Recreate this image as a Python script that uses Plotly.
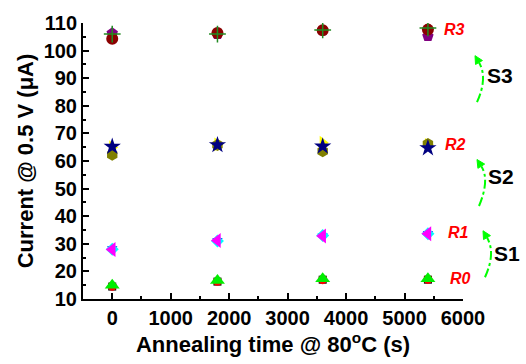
import math
import plotly.graph_objects as go

# ---- data ----
time_s = [0, 1800, 3600, 5400]

r0_black_square = [14.5, 16.3, 17.0, 17.0]
r0_red_circle = [14.6, 16.4, 17.0, 17.1]
r0_green_triangle = [15.0, 16.7, 17.3, 17.3]

r1_blue_tridown = [28.3, 31.3, 32.9, 33.8]
r1_cyan_diamond = [28.0, 31.0, 33.0, 33.6]
r1_magenta_tleft = [27.9, 31.2, 32.8, 33.6]

r2_yellow_tright = [65.0, 66.0, 66.6, 65.8]
r2_olive_hexagon = [62.3, 65.8, 63.5, 66.2]
r2_navy_star = [65.2, 65.8, 65.3, 64.7]

r3_purple_pentagon = [106.3, 106.0, 107.3, 105.2]
r3_wine_circle = [104.3, 106.4, 107.4, 107.6]
r3_green_cross = [106.0, 106.0, 107.5, 108.2]

x_ticks = [0, 1000, 2000, 3000, 4000, 5000, 6000]
y_ticks = [10, 20, 30, 40, 50, 60, 70, 80, 90, 100, 110]

row_labels = ["R0", "R1", "R2", "R3"]
row_label_x = [5950, 5930, 5880, 5850]
row_label_y = [17.5, 34.1, 66.0, 107.6]
step_labels = ["S1", "S2", "S3"]

series = [
    (r0_black_square, "square", "#000000", 8),
    (r0_red_circle, "circle", "#ff0000", 9),
    (r0_green_triangle, "triangle-up", "#00ee00", 13),
    (r1_blue_tridown, "triangle-down", "#0000ff", 9),
    (r1_cyan_diamond, "diamond", "#00ffff", 10),
    (r1_magenta_tleft, "triangle-left", "#ff00ff", 13),
    (r2_yellow_tright, "triangle-right", "#ffff00", 12),
    (r2_olive_hexagon, "hexagon", "#808000", 12),
    (r2_navy_star, "star", "#000080", 13),
    (r3_purple_pentagon, "pentagon", "#800080", 12),
    (r3_wine_circle, "circle", "#8b0000", 12),
]

FAM = "Liberation Sans"

fig = go.Figure()
for vals, sym, col, sz in series:
    fig.add_trace(go.Scatter(
        x=time_s, y=vals, mode="markers",
        marker=dict(symbol=sym, color=col, size=sz, line=dict(width=0)),
        showlegend=False))
fig.add_trace(go.Scatter(
    x=time_s, y=r3_green_cross, mode="markers",
    marker=dict(symbol="cross-thin", size=12, line=dict(width=1.5, color="#228b22")),
    showlegend=False))

# row labels
for lab, xv, yv in zip(row_labels, row_label_x, row_label_y):
    fig.add_annotation(x=xv, y=yv, text="<b><i>%s</i></b>" % lab, showarrow=False,
                       xanchor="center", yanchor="middle",
                       font=dict(family=FAM, size=16, color="#ff0000"))

# plot area in pixels
L, R, T, B = 83, 463, 20, 299
W, H = 526, 364

def px(xp):
    return (xp - L) / (R - L)

def py(yp):
    return (B - yp) / (B - T)

# step labels & curved dash-dot arrows (decorations, in pixel -> paper coords)
step_pos = [(507, 253), (501, 175), (500, 73)]
# (bottom, curve midpoint, tip)
arrows = [((485, 277), (490, 253), (483, 230)),
          ((479, 205), (484, 180), (477, 158)),
          ((477, 100), (482, 76), (475, 53))]
for lab, (sx, sy) in zip(step_labels, step_pos):
    fig.add_annotation(xref="paper", yref="paper", x=px(sx), y=py(sy),
                       text="<b>%s</b>" % lab, showarrow=False,
                       xanchor="center", yanchor="middle",
                       font=dict(family=FAM, size=21, color="#000000"))

for (b, mc, t) in arrows:
    cx = 2 * mc[0] - (b[0] + t[0]) / 2
    cy = 2 * mc[1] - (b[1] + t[1]) / 2
    dx, dy = t[0] - cx, t[1] - cy
    n = math.hypot(dx, dy)
    ux, uy = dx / n, dy / n
    hl, hw = 8, 4
    bx, by = t[0] - hl * ux, t[1] - hl * uy
    path = "M %f %f Q %f %f %f %f" % (px(b[0]), py(b[1]), px(cx), py(cy), px(bx), py(by))
    fig.add_shape(type="path", xref="paper", yref="paper", path=path,
                  line=dict(color="#00ff00", width=2, dash="dashdot"))
    p1 = (bx - hw * uy, by + hw * ux)
    p2 = (bx + hw * uy, by - hw * ux)
    head = "M %f %f L %f %f L %f %f Z" % (px(t[0]), py(t[1]), px(p1[0]), py(p1[1]), px(p2[0]), py(p2[1]))
    fig.add_shape(type="path", xref="paper", yref="paper", path=head,
                  fillcolor="#00ff00", line=dict(color="#00ff00", width=1))

tick_font = dict(family=FAM, size=20, color="#000000")
title_font = dict(family=FAM, size=22, color="#000000")
fig.update_layout(
    width=W, height=H,
    margin=dict(l=L, r=W - R, t=T, b=H - B),
    paper_bgcolor="white", plot_bgcolor="white",
    font=dict(family=FAM, color="#000000"),
    xaxis=dict(range=[-500, 6000], tickvals=x_ticks, ticktext=["<b>%d</b>" % v for v in x_ticks],
               showgrid=False, zeroline=False, showline=True, linecolor="black", linewidth=2,
               ticks="inside", ticklen=6, tickwidth=1.5, tickcolor="black",
               minor=dict(ticks="inside", ticklen=3, tickwidth=1.5, tickcolor="black", dtick=500, tick0=0),
               title=dict(text="<b>Annealing time @ 80<sup>o</sup>C (s)</b>", font=title_font, standoff=4),
               tickfont=tick_font),
    yaxis=dict(range=[10, 110], tickvals=y_ticks, ticktext=["<b>%d</b>" % v for v in y_ticks],
               showgrid=False, zeroline=False, showline=True, linecolor="black", linewidth=2,
               ticks="inside", ticklen=6, tickwidth=1.5, tickcolor="black",
               minor=dict(ticks="inside", ticklen=3, tickwidth=1.5, tickcolor="black", dtick=5, tick0=0),
               title=dict(text="<b>Current @ 0.5 V (μA)</b>", font=title_font, standoff=4),
               tickfont=tick_font),
)

fig.write_html("out.html")
